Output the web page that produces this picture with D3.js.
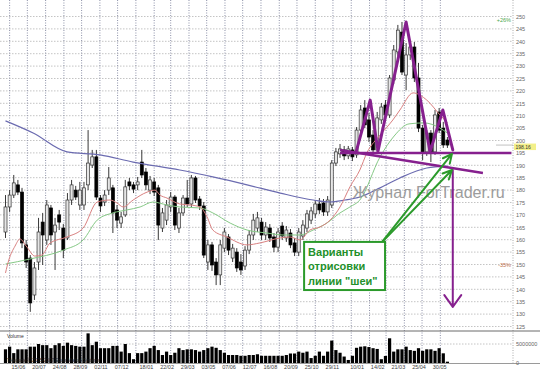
<!DOCTYPE html>
<html>
<head>
<meta charset="utf-8">
<script src="https://cdn.jsdelivr.net/npm/d3@7"></script>
<style>
  body { margin: 0; background: #fff; }
  svg { display: block; font-family: "Liberation Sans", Arial, sans-serif; }
</style>
</head>
<body>
<svg id="chart" width="540" height="375"></svg>
<script>
// weekly bars, first bar is the week of 25/05/2005
const startWeek = "2005-05-25";

const opens = [163.1,173.2,178.0,182.1,179.2,157.9,152.6,137.7,151.0,167.1,159.9,172.8,163.1,170.0,164.7,160.7,176.0,180.0,174.0,174.0,
  182.1,190.1,193.4,176.8,175.2,180.0,180.9,172.0,166.7,170.0,183.3,182.1,182.1,191.3,187.3,180.0,183.3,180.9,164.7,167.9,
  173.2,177.2,164.7,170.8,176.8,174.4,184.9,176.4,173.6,151.0,157.9,151.0,145.8,156.6,161.1,152.6,155.0,151.0,149.4,155.8,
  161.9,164.7,167.1,161.9,164.7,161.1,157.0,165.5,160.7,162.7,158.7,155.0,161.5,164.7,167.9,170.4,174.4,174.8,171.2,174.0,
  190.9,194.6,196.2,193.8,196.2,194.2,204.2,213.1,208.3,202.2,196.2,208.3,214.3,210.3,224.4,235.7,243.7,226.4,234.5,237.7,
  225.2,205.0,195.4,203.0,195.4,211.5,205.0,200.2];
const highs = [178.0,180.0,186.1,184.1,180.9,159.9,153.8,151.0,168.8,170.8,176.0,174.0,168.8,172.0,166.3,178.8,184.1,181.7,183.3,183.3,
  204.2,196.2,196.2,178.0,180.0,189.3,182.1,174.0,171.2,184.1,184.9,183.3,185.3,196.2,188.9,185.7,184.9,182.1,172.8,176.0,
  179.2,178.0,172.8,178.0,184.1,186.1,185.7,177.6,175.2,159.9,159.1,152.6,159.9,164.7,162.3,158.3,156.6,154.2,157.4,163.9,
  170.4,171.2,168.8,167.1,166.3,162.7,164.7,167.1,165.5,164.3,160.7,164.7,167.9,172.0,173.2,176.0,176.8,176.4,177.6,192.1,
  197.0,198.6,197.8,197.8,197.4,205.4,214.3,216.3,211.1,204.2,211.5,215.1,216.3,226.4,238.5,246.6,247.8,239.3,240.5,239.7,
  231.3,206.3,204.2,204.2,212.3,213.1,207.5,201.4];
const lows = [160.7,171.2,176.8,178.0,156.6,148.6,130.9,135.7,147.8,149.8,157.9,157.9,147.8,163.9,152.6,159.9,174.0,176.0,172.0,172.0,
  180.0,188.9,176.0,171.2,173.6,178.0,162.7,164.7,164.7,169.2,180.0,178.8,180.0,184.9,180.0,178.4,177.6,159.9,163.1,165.9,
  171.2,163.9,162.7,169.6,173.2,173.2,174.8,172.0,152.6,147.8,147.4,141.7,141.7,155.0,153.8,151.0,147.0,145.8,147.8,154.2,
  159.9,163.1,159.9,159.9,159.1,155.0,155.0,159.9,159.1,156.6,153.4,153.4,159.9,163.1,166.3,168.8,170.4,169.6,169.6,172.8,
  189.7,193.0,192.1,192.5,191.7,193.0,202.2,205.0,199.4,193.8,195.0,206.7,208.3,209.1,222.8,234.1,226.4,220.3,232.5,223.6,
  203.4,192.1,193.8,191.3,194.2,203.0,197.0,197.0];
const closes = [173.2,178.0,182.9,179.2,158.7,151.0,134.5,148.6,163.1,161.9,174.0,161.9,165.9,167.1,155.8,176.0,182.1,177.2,180.0,180.9,
  190.9,193.4,177.2,173.6,178.0,184.9,170.8,167.9,169.2,181.3,181.7,180.4,183.3,186.1,182.1,184.1,179.2,165.9,170.8,174.0,
  177.2,165.9,170.8,176.8,174.4,184.9,176.0,173.6,153.8,157.9,149.8,145.8,157.9,163.1,155.8,156.6,148.6,147.8,155.8,161.9,
  167.9,168.8,161.9,165.1,160.7,157.0,163.1,161.5,163.9,157.9,155.0,163.1,165.9,170.4,171.6,174.4,172.0,171.2,176.0,190.9,
  195.4,196.6,193.8,196.6,193.4,204.2,212.3,206.3,201.4,196.2,209.1,213.5,210.3,225.2,236.5,244.5,227.6,234.5,237.7,225.2,
  205.0,195.4,203.0,195.4,210.3,204.2,198.2,198.16];
// volume, millions of shares
const volumes = [3.6,4.3,2.6,3.6,3.6,3.6,4.3,4.3,5.0,4.7,4.7,3.9,4.7,5.2,4.5,5.35,4.7,4.5,4.3,4.3,
  7.8,4.7,5.6,3.9,3.9,3.9,4.5,4.5,3.0,5.0,2.6,1.0,2.6,2.6,3.0,3.9,4.5,3.4,2.1,3.0,
  2.1,2.7,3.9,3.4,3.6,3.6,3.4,3.0,3.4,3.9,4.3,4.0,3.4,2.7,2.1,2.1,2.1,1.9,1.9,2.1,
  2.1,2.3,1.9,1.9,1.9,1.9,1.9,1.9,2.1,2.5,2.5,3.0,2.7,3.0,1.3,1.9,3.0,1.9,3.0,5.9,
  3.4,2.7,1.7,0.8,1.9,4.0,4.3,4.4,4.2,3.9,3.7,1.0,1.85,6.5,3.0,3.6,3.6,4.3,3.4,3.2,
  3.9,3.2,3.6,3.6,3.2,3.9,2.55,0.35];

// moving averages: [week index, price]
const maFast = [[0,146.6],[0.8,151.8],[2.3,157.4],[3.5,160.3],[5.2,157.0],[7.1,153.4],[8.8,153.8],[10.8,158.7],[14.9,161.1],
  [18.8,164.7],[22.2,175.2],[25.3,176.0],[27.0,174.8],[28.5,173.2],[30.9,176.0],[34.3,179.2],[36.2,180.0],[37.4,178.0],
  [39.1,176.8],[42.2,174.4],[44.7,174.0],[47.1,173.2],[48.8,169.2],[50.2,163.9],[53.6,161.1],[58.5,157.9],[61.6,158.7],
  [66.5,160.7],[68.9,161.1],[71.3,159.9],[73.7,163.9],[76.1,165.1],[78.6,167.9],[81.0,173.2],[83.4,181.3],[85.8,188.1],
  [87.5,195.0],[90.7,202.2],[93.8,208.3],[95.5,212.3],[98.7,219.2],[102.0,216.3],[105.2,210.3],[107,207.1]];
const maMid = [[0,150.2],[5.9,152.2],[14.0,155.8],[18.8,159.9],[22.2,167.9],[26.0,170.8],[29.4,172.0],[32.6,173.2],[35.7,175.2],
  [39.1,174.0],[42.2,173.2],[47.1,172.8],[50.2,170.8],[54.4,166.7],[58.5,163.9],[63.3,162.7],[67.2,161.9],[71.3,161.9],
  [74.5,163.9],[77.8,166.7],[81.0,170.8],[83.4,173.2],[85.8,176.0],[90.7,193.4],[94.1,201.8],[97.7,206.7],[101.3,207.1],
  [105.2,205.0],[107,203.0]];
const maSlow = [[0,207.9],[6.7,203.0],[14.9,195.4],[22.9,194.2],[30.9,191.3],[42.2,188.1],[50.2,185.3],[58.5,182.1],[66.5,178.8],
  [74.5,176.0],[78.6,175.2],[82.2,176.0],[85.8,177.2],[90.7,180.9],[95.5,184.9],[102.0,188.9],[107,189.7]];

const priceTicks = d3.range(125, 251, 5);
const dateLabels = ["2005-06-15","2005-07-20","2005-08-24","2005-09-28","2005-11-02","2005-12-07","2006-01-18","2006-02-22",
  "2006-03-29","2006-05-03","2006-06-07","2006-07-12","2006-08-16","2006-09-20","2006-10-25","2006-11-29","2007-01-10",
  "2007-02-14","2007-03-21","2007-04-25","2007-05-30"];

// hand drawn pattern: [week index, price]
const headShoulders = [[84.9,195.4],[88.3,216.3],[90.2,195.8],[97.0,247.8],[102.8,195.4],[105.9,212.3],[108.3,196.2]];
const necklineFlat = [[81.0,195.0],[122.5,195.0]];
const necklineSloped = [[81.0,196.2],[115.6,186.9]];
const targetArrow = [[108.3,188.1],[108.3,132.9]];
const noteArrows = [[[91.0,158.7],[108.1,194.6]], [[91.0,158.7],[108.1,188.1]]];
const noteBox = [[72.3,159.1],[91.9,139.7]];
const noteLines = ["Варианты", "отрисовки", "линии \"шеи\""];

const purple = "#86208e", green = "#2b9a2b";
const N = closes.length;
const parse = d3.timeParse("%Y-%m-%d");
const t0 = parse(startWeek);
const weeks = d3.range(N).map(i => d3.timeDay.offset(t0, 7 * i));

const svg = d3.select("#chart");
const x = d3.scaleTime().domain([weeks[0], weeks[N - 1]]).range([5.5, 5.5 + (N - 1) * 4.13]);
const xi = d3.scaleLinear().domain([0, N - 1]).range(x.range());
const y = d3.scaleLinear().domain([125, 250]).range([326.5, 16.5]);
const yv = d3.scaleLinear().domain([0, 5]).range([363, 344]);
const axisX = 513;

// grid
const grid = svg.append("g");
grid.selectAll("line.h").data(priceTicks).join("line")
  .attr("x1", 0).attr("x2", axisX).attr("y1", d => y(d)).attr("y2", d => y(d))
  .attr("stroke", "#c4c4c4").attr("stroke-dasharray", "1.5,1.5");
grid.append("line").attr("x1", 0).attr("x2", axisX).attr("y1", yv(5)).attr("y2", yv(5))
  .attr("stroke", "#c4c4c4").attr("stroke-dasharray", "1.5,1.5");
const months = d3.timeMonth.range(d3.timeMonth.ceil(weeks[0]), d3.timeDay.offset(weeks[N - 1], 10));
grid.selectAll("line.v").data(months).join("line")
  .attr("x1", d => x(d)).attr("x2", d => x(d)).attr("y1", 0).attr("y2", 363)
  .attr("stroke", "#8d91a8").attr("stroke-dasharray", "1,1.5");
grid.append("line").attr("x1", axisX).attr("x2", axisX).attr("y1", 0).attr("y2", 363)
  .attr("stroke", "#aaa").attr("stroke-dasharray", "1,1.5");

// panel borders
svg.append("line").attr("x1", 0).attr("x2", 540).attr("y1", 331).attr("y2", 331).attr("stroke", "#6a6a6a");
svg.append("line").attr("x1", 0).attr("x2", 540).attr("y1", 363.5).attr("y2", 363.5).attr("stroke", "#9a9a9a");

// candles
const bars = d3.range(N);
const cg = svg.append("g");
cg.selectAll("line").data(bars).join("line")
  .attr("x1", i => x(weeks[i])).attr("x2", i => x(weeks[i]))
  .attr("y1", i => y(highs[i])).attr("y2", i => y(lows[i]))
  .attr("stroke", "#222").attr("stroke-width", 0.9);
cg.selectAll("rect").data(bars).join("rect")
  .attr("x", i => x(weeks[i]) - 1.5).attr("width", 3)
  .attr("y", i => y(Math.max(opens[i], closes[i])))
  .attr("height", i => Math.max(1, Math.abs(y(opens[i]) - y(closes[i]))))
  .attr("fill", i => closes[i] >= opens[i] ? "#e6e6e6" : "#000")
  .attr("stroke", i => closes[i] >= opens[i] ? "#333" : "#000")
  .attr("stroke-width", 0.7);

// volume
svg.append("g").selectAll("rect").data(bars).join("rect")
  .attr("x", i => x(weeks[i]) - 1.6).attr("width", 3.2)
  .attr("y", i => yv(volumes[i])).attr("height", i => yv(0) - yv(volumes[i]))
  .attr("fill", "#000");

// moving averages
const line = d3.line().x(d => xi(d[0])).y(d => y(d[1])).curve(d3.curveMonotoneX);
svg.append("path").attr("d", line(maSlow)).attr("fill", "none").attr("stroke", "#6b6bb0").attr("stroke-width", 1.2);
svg.append("path").attr("d", line(maMid)).attr("fill", "none").attr("stroke", "#86c986").attr("stroke-width", 1);
svg.append("path").attr("d", line(maFast)).attr("fill", "none").attr("stroke", "#d98080").attr("stroke-width", 1);

// right axis
const ay = svg.append("g").attr("transform", `translate(${axisX},0)`)
  .call(d3.axisRight(y).tickValues(priceTicks).tickSize(0).tickPadding(3));
const av = svg.append("g").attr("transform", `translate(${axisX},0)`)
  .call(d3.axisRight(yv).tickValues([0, 5]).tickSize(0).tickPadding(3).tickFormat(d => d ? "5000000" : "0"));
[ay, av].forEach(a => {
  a.select(".domain").remove();
  a.selectAll("text").attr("font-size", 5.5).attr("fill", "#666").attr("font-family", "Liberation Sans, Arial");
});

// date axis
const ax = svg.append("g").attr("transform", "translate(0,363.5)")
  .call(d3.axisBottom(x).tickValues(dateLabels.map(parse)).tickSize(0).tickPadding(1.5).tickFormat(d3.timeFormat("%d/%m")));
ax.select(".domain").remove();
ax.selectAll("text").attr("font-size", 5.5).attr("fill", "#444").attr("font-family", "Liberation Sans, Arial");

svg.append("text").attr("x", 7).attr("y", 337.5).attr("font-size", 5).attr("fill", "#333").text("Volume");
svg.append("text").attr("x", 7).attr("y", 361.5).attr("font-size", 5).attr("fill", "#222")
  .attr("textLength", 93).attr("lengthAdjust", "spacingAndGlyphs")
  .text("Telequote © 2005-2007 Equis Market Systems");

// axis side markers
svg.append("text").attr("x", 511).attr("y", y(248.6) + 2).attr("text-anchor", "end")
  .attr("font-size", 5.5).attr("fill", "#4aa84a").text("+26%");
svg.append("text").attr("x", 511).attr("y", y(149.7) + 2).attr("text-anchor", "end")
  .attr("font-size", 5.5).attr("fill", "#c0704a").text("-35%");
const last = closes[N - 1];
const ly = y(last);
svg.append("line").attr("x1", 496).attr("x2", axisX).attr("y1", ly).attr("y2", ly).attr("stroke", "#999").attr("stroke-width", 0.6);
svg.append("rect").attr("x", 514).attr("y", ly - 1.5).attr("width", 22).attr("height", 6.5).attr("fill", "#f3f08a");
svg.append("text").attr("x", 515.5).attr("y", ly + 3.6).attr("font-size", 5).attr("fill", "#333").text(d3.format(".2f")(last));

// watermark
svg.append("text").attr("x", xi(84.1)).attr("y", y(176.8)).attr("font-size", 17).attr("fill", "#9c9c9c")
  .attr("textLength", 152).attr("lengthAdjust", "spacingAndGlyphs").text("Журнал ForTrader.ru");

// pattern annotations
const pl = d3.line().x(d => xi(d[0])).y(d => y(d[1]));
svg.append("path").attr("d", pl(necklineFlat)).attr("stroke", purple).attr("stroke-width", 2.5).attr("fill", "none");
svg.append("path").attr("d", pl(necklineSloped)).attr("stroke", purple).attr("stroke-width", 2.5).attr("fill", "none");
svg.append("path").attr("d", pl(headShoulders)).attr("stroke", purple).attr("stroke-width", 3)
  .attr("fill", "none").attr("stroke-linejoin", "round").attr("stroke-linecap", "round");

function arrow(from, to, len, ang, color, w) {
  const x1 = xi(from[0]), y1 = y(from[1]), x2 = xi(to[0]), y2 = y(to[1]);
  const a = Math.atan2(y2 - y1, x2 - x1);
  const w1 = [x2 + len * Math.cos(a + Math.PI - ang), y2 + len * Math.sin(a + Math.PI - ang)];
  const w2 = [x2 + len * Math.cos(a + Math.PI + ang), y2 + len * Math.sin(a + Math.PI + ang)];
  svg.append("path").attr("d", `M${x1},${y1}L${x2},${y2}M${w1}L${x2},${y2}L${w2}`)
    .attr("stroke", color).attr("stroke-width", w).attr("fill", "none")
    .attr("stroke-linecap", "round").attr("stroke-linejoin", "round");
}
arrow(targetArrow[0], targetArrow[1], 14.5, 0.62, purple, 2);
noteArrows.forEach(a => arrow(a[0], a[1], 10, 0.45, green, 2));

// note box
const bx = xi(noteBox[0][0]), by = y(noteBox[0][1]);
svg.append("rect").attr("x", bx).attr("y", by)
  .attr("width", xi(noteBox[1][0]) - bx).attr("height", y(noteBox[1][1]) - by)
  .attr("fill", "#fff").attr("stroke", green).attr("stroke-width", 2);
svg.append("g").selectAll("text").data(noteLines).join("text")
  .attr("x", bx + 4).attr("y", (d, i) => by + 14 + i * 14.5)
  .attr("font-size", 11).attr("font-weight", "bold").attr("fill", "#23902a")
  .text(d => d);
</script>
</body>
</html>
